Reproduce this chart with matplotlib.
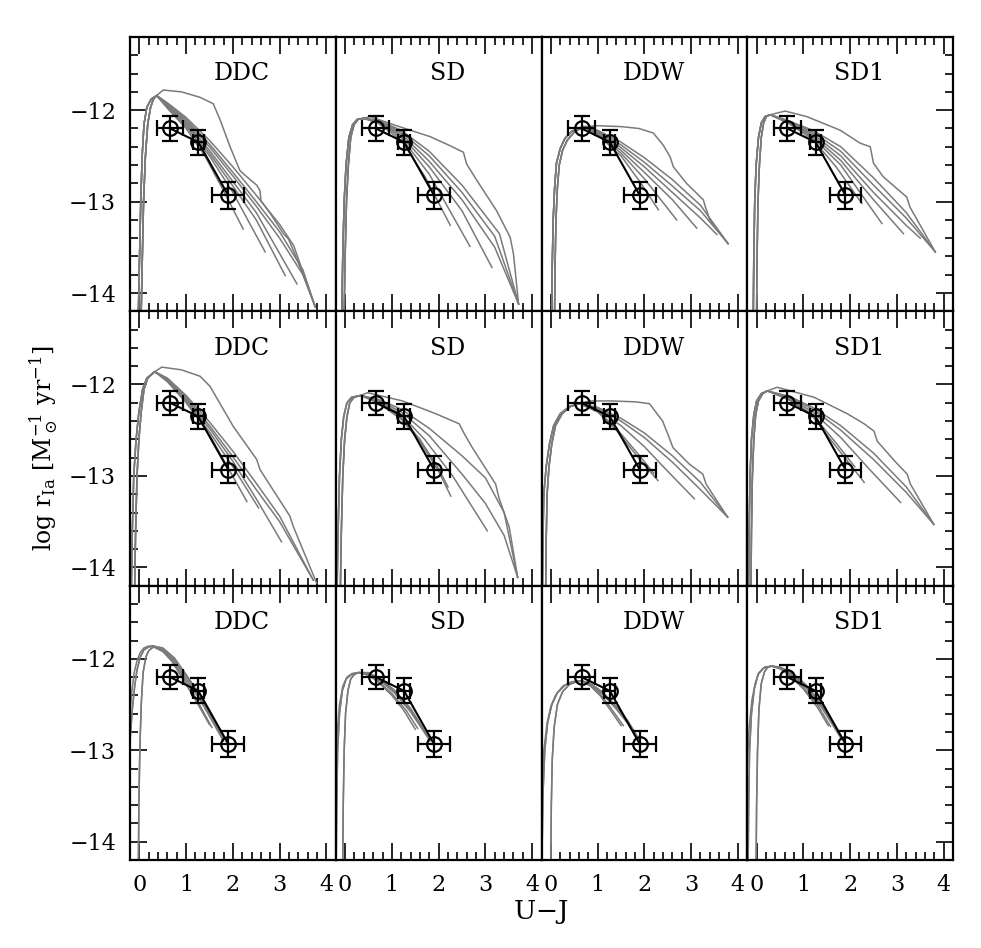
import matplotlib
matplotlib.use("Agg")
import matplotlib.pyplot as plt
from matplotlib.ticker import MultipleLocator

plt.rcParams['font.family'] = ['DejaVu Serif']
plt.rcParams['mathtext.fontset'] = 'dejavuserif'
plt.rcParams['xtick.labelsize'] = 16
plt.rcParams['ytick.labelsize'] = 16

# observed points (U-J colour vs log rate)
obs_x = [0.656, 1.26, 1.90]
obs_y = [-12.20, -12.35, -12.93]
obs_xerr = [0.285, 0.12, 0.34]
obs_yerr = [0.133, 0.135, 0.146]

models = ['DDC', 'SD', 'DDW', 'SD1']

# ---- row 1 ----
r1_ddc_rise = [([-0.02, 0.0, 0.03, 0.06, 0.10, 0.16, 0.25, 0.37], [-14.2, -13.7, -13.0, -12.5, -12.15, -11.97, -11.88, -11.84]),
               ([0.04, 0.06, 0.09, 0.13, 0.18, 0.24, 0.30, 0.37], [-14.2, -13.7, -13.0, -12.5, -12.15, -11.97, -11.88, -11.84])]
r1_ddc_tails = [([0.51, 0.9, 1.3, 1.58, 1.73, 1.94, 2.15, 2.3, 2.51, 2.58, 2.6, 2.8, 3.08, 3.19, 3.29, 3.44, 3.76],
                 [-11.78, -11.8, -11.86, -11.93, -12.11, -12.4, -12.66, -12.73, -12.82, -12.88, -12.99, -13.13, -13.35, -13.41, -13.53, -13.72, -14.15]),
                ([0.6, 1.0, 1.4, 1.8, 2.22], [-11.98, -12.2, -12.5, -12.88, -13.30]),
                ([0.6, 1.0, 1.5, 2.0, 2.69], [-11.97, -12.18, -12.5, -12.9, -13.55]),
                ([0.6, 1.0, 1.5, 2.0, 2.5, 3.12], [-11.96, -12.16, -12.47, -12.83, -13.2, -13.81]),
                ([0.6, 1.0, 1.5, 2.0, 2.5, 3.37], [-11.95, -12.14, -12.44, -12.78, -13.12, -13.9]),
                ([0.6, 1.0, 1.5, 2.0, 2.5, 3.0, 3.5, 3.76], [-11.94, -12.12, -12.4, -12.72, -13.05, -13.4, -13.8, -14.15]),
                ([0.6, 1.0, 1.5, 2.0, 2.5, 3.0, 3.5, 3.76], [-11.93, -12.1, -12.37, -12.68, -13.0, -13.33, -13.75, -14.15]),
                ([0.6, 1.0, 1.5, 2.0, 2.5, 3.0, 3.3, 3.76], [-11.92, -12.08, -12.33, -12.62, -12.93, -13.25, -13.48, -14.15])]

r1_sd_rise = [([-0.07, -0.05, -0.02, 0.02, 0.08, 0.16, 0.26, 0.39], [-14.2, -13.6, -13.0, -12.6, -12.3, -12.16, -12.1, -12.09]),
              ([-0.02, 0.0, 0.03, 0.07, 0.12, 0.19, 0.28, 0.39], [-14.2, -13.6, -13.0, -12.6, -12.3, -12.16, -12.1, -12.09])]
r1_sd_tails = [([0.53, 1.1, 1.82, 2.25, 2.53, 2.6, 2.82, 3.1, 3.24, 3.53, 3.6, 3.71],
                [-12.07, -12.17, -12.29, -12.39, -12.46, -12.59, -12.77, -12.99, -13.1, -13.39, -13.57, -14.12]),
               ([0.7, 1.2, 1.7, 2.25], [-12.14, -12.33, -12.72, -13.26]),
               ([0.7, 1.2, 1.8, 2.67], [-12.13, -12.3, -12.7, -13.49]),
               ([0.7, 1.2, 1.8, 2.5, 3.14], [-12.12, -12.28, -12.62, -13.1, -13.72]),
               ([0.7, 1.2, 1.8, 2.5, 3.2, 3.71], [-12.12, -12.26, -12.56, -12.98, -13.5, -14.12]),
               ([0.7, 1.2, 1.8, 2.5, 3.2, 3.71], [-12.11, -12.24, -12.5, -12.9, -13.38, -14.12]),
               ([0.7, 1.2, 1.8, 2.5, 3.3, 3.71], [-12.11, -12.22, -12.45, -12.82, -13.35, -14.12])]

r1_ddw_rise = [([0.02, 0.03, 0.05, 0.08, 0.12, 0.2, 0.3, 0.45, 0.7], [-14.2, -13.7, -13.2, -12.85, -12.58, -12.42, -12.31, -12.23, -12.18]),
               ([0.08, 0.09, 0.11, 0.14, 0.18, 0.25, 0.35, 0.5, 0.7], [-14.2, -13.7, -13.2, -12.85, -12.6, -12.44, -12.33, -12.24, -12.18])]
r1_ddw_tails = [([1.0, 1.5, 1.88, 2.19, 2.4, 2.55, 2.62, 2.9, 3.26, 3.3, 3.4, 3.79],
                 [-12.17, -12.18, -12.2, -12.25, -12.38, -12.51, -12.62, -12.8, -12.98, -13.05, -13.2, -13.46]),
                ([1.0, 1.5, 1.9, 2.3], [-12.27, -12.5, -12.78, -13.09]),
                ([1.0, 1.5, 2.0, 2.69], [-12.26, -12.47, -12.75, -13.2]),
                ([1.0, 1.5, 2.0, 2.6, 3.12], [-12.25, -12.44, -12.68, -12.98, -13.29]),
                ([1.0, 1.5, 2.0, 2.6, 3.2, 3.55], [-12.24, -12.41, -12.62, -12.9, -13.18, -13.36]),
                ([1.0, 1.5, 2.0, 2.6, 3.2, 3.79], [-12.23, -12.38, -12.57, -12.83, -13.1, -13.46]),
                ([1.0, 1.5, 2.0, 2.6, 3.2, 3.79], [-12.22, -12.35, -12.52, -12.76, -13.04, -13.46])]

r1_sd1_rise = [([-0.07, -0.06, -0.04, -0.01, 0.04, 0.1, 0.18, 0.29], [-14.2, -13.6, -13.0, -12.6, -12.3, -12.14, -12.07, -12.05]),
               ([0.0, 0.01, 0.03, 0.06, 0.1, 0.15, 0.21, 0.29], [-14.2, -13.6, -13.0, -12.6, -12.3, -12.14, -12.07, -12.05])]
r1_sd1_tails = [([0.61, 1.07, 1.79, 2.21, 2.43, 2.5, 2.71, 3.21, 3.28, 3.82],
                 [-12.01, -12.07, -12.22, -12.36, -12.4, -12.58, -12.73, -12.95, -13.06, -13.55]),
                ([0.7, 1.2, 1.7, 2.25], [-12.15, -12.32, -12.62, -13.02]),
                ([0.7, 1.2, 1.8, 2.68], [-12.14, -12.3, -12.6, -13.24]),
                ([0.7, 1.2, 1.8, 2.5, 3.14], [-12.13, -12.28, -12.55, -12.98, -13.35]),
                ([0.7, 1.2, 1.8, 2.5, 3.2, 3.5], [-12.13, -12.26, -12.5, -12.9, -13.26, -13.4]),
                ([0.7, 1.2, 1.8, 2.5, 3.2, 3.82], [-12.12, -12.24, -12.45, -12.82, -13.18, -13.55]),
                ([0.7, 1.2, 1.8, 2.5, 3.2, 3.82], [-12.12, -12.22, -12.4, -12.74, -13.12, -13.55])]

# ---- row 2 ----
r2_ddc_rise = [([-0.17, -0.15, -0.12, -0.07, -0.01, 0.07, 0.16, 0.33], [-14.2, -13.6, -13.0, -12.6, -12.3, -12.05, -11.93, -11.86]),
               ([-0.1, -0.08, -0.05, -0.01, 0.04, 0.1, 0.18, 0.33], [-14.2, -13.6, -13.0, -12.6, -12.3, -12.05, -11.93, -11.86])]
r2_ddc_tails = [([0.48, 0.9, 1.3, 1.51, 2.01, 2.51, 2.58, 3.22, 3.29, 3.79],
                 [-11.81, -11.84, -11.91, -12.02, -12.46, -12.82, -12.93, -13.44, -13.55, -14.17]),
                ([0.6, 1.0, 1.5, 2.3], [-11.97, -12.2, -12.55, -13.28]),
                ([0.6, 1.0, 1.5, 2.0, 2.55], [-11.96, -12.18, -12.52, -12.9, -13.35]),
                ([0.6, 1.0, 1.5, 2.0, 2.5, 3.04], [-11.95, -12.16, -12.48, -12.84, -13.25, -13.72]),
                ([0.6, 1.0, 1.5, 2.0, 2.5, 3.0, 3.72], [-11.94, -12.14, -12.45, -12.79, -13.15, -13.5, -14.14]),
                ([0.6, 1.0, 1.5, 2.0, 2.5, 3.0, 3.72], [-11.93, -12.12, -12.41, -12.73, -13.08, -13.44, -14.14])]

r2_sd_rise = [([-0.17, -0.15, -0.12, -0.08, -0.03, 0.04, 0.14, 0.33], [-14.2, -13.6, -13.0, -12.6, -12.35, -12.2, -12.14, -12.12]),
              ([-0.1, -0.08, -0.05, -0.01, 0.04, 0.1, 0.19, 0.33], [-14.2, -13.6, -13.0, -12.6, -12.35, -12.2, -12.14, -12.12])]
r2_sd_tails = [([0.48, 1.23, 1.94, 2.44, 2.55, 2.72, 3.22, 3.29, 3.51, 3.69],
                [-12.09, -12.18, -12.32, -12.43, -12.54, -12.69, -13.09, -13.24, -13.56, -14.11]),
               ([0.7, 1.2, 1.6, 2.0, 2.26], [-12.2, -12.38, -12.62, -12.95, -13.22]),
               ([0.7, 1.2, 1.6, 2.0, 2.2], [-12.19, -12.36, -12.6, -12.92, -13.12]),
               ([0.7, 1.2, 1.7, 2.3, 3.04], [-12.18, -12.33, -12.6, -13.0, -13.6]),
               ([0.7, 1.2, 1.8, 2.5, 3.0, 3.4, 3.69], [-12.17, -12.3, -12.56, -12.98, -13.3, -13.65, -14.11]),
               ([0.7, 1.2, 1.8, 2.5, 3.0, 3.4, 3.69], [-12.16, -12.27, -12.48, -12.78, -13.02, -13.4, -14.11])]

r2_ddw_rise = [([-0.18, -0.17, -0.15, -0.1, -0.03, 0.06, 0.2, 0.4, 0.61], [-14.2, -13.7, -13.2, -12.9, -12.65, -12.45, -12.32, -12.24, -12.21]),
               ([-0.11, -0.1, -0.08, -0.04, 0.02, 0.1, 0.24, 0.42, 0.61], [-14.2, -13.7, -13.2, -12.9, -12.65, -12.45, -12.32, -12.24, -12.21])]
r2_ddw_tails = [([0.82, 1.3, 1.82, 2.11, 2.39, 2.53, 2.61, 2.96, 3.25, 3.32, 3.78],
                 [-12.18, -12.18, -12.19, -12.21, -12.4, -12.58, -12.69, -12.87, -12.98, -13.09, -13.45]),
                ([1.0, 1.4, 1.9, 2.29], [-12.3, -12.5, -12.82, -13.05]),
                ([1.0, 1.4, 1.9, 2.2], [-12.29, -12.48, -12.78, -12.97]),
                ([1.0, 1.5, 2.0, 2.5, 3.07], [-12.28, -12.45, -12.68, -12.95, -13.25]),
                ([1.0, 1.5, 2.0, 2.6, 3.2, 3.78], [-12.26, -12.4, -12.58, -12.85, -13.15, -13.45]),
                ([1.0, 1.5, 2.0, 2.6, 3.2, 3.78], [-12.25, -12.37, -12.53, -12.78, -13.07, -13.45])]

r2_sd1_rise = [([-0.17, -0.16, -0.14, -0.11, -0.06, 0.0, 0.1, 0.23], [-14.2, -13.6, -13.0, -12.6, -12.33, -12.18, -12.1, -12.07]),
               ([-0.12, -0.11, -0.09, -0.06, -0.02, 0.04, 0.13, 0.23], [-14.2, -13.6, -13.0, -12.6, -12.33, -12.18, -12.1, -12.07])]
r2_sd1_tails = [([0.44, 1.23, 1.94, 2.3, 2.51, 2.58, 2.94, 3.22, 3.29, 3.79],
                 [-12.03, -12.14, -12.32, -12.43, -12.51, -12.62, -12.83, -12.98, -13.09, -13.53]),
                ([0.7, 1.2, 1.7, 2.3], [-12.17, -12.35, -12.68, -13.07]),
                ([0.7, 1.2, 1.7, 2.1], [-12.16, -12.33, -12.64, -12.9]),
                ([0.7, 1.2, 1.8, 2.4, 3.08], [-12.15, -12.3, -12.58, -12.92, -13.29]),
                ([0.7, 1.2, 1.8, 2.5, 3.2, 3.79], [-12.14, -12.27, -12.5, -12.82, -13.18, -13.53]),
                ([0.7, 1.2, 1.8, 2.5, 3.2, 3.79], [-12.13, -12.25, -12.45, -12.75, -13.12, -13.53])]

# ---- row 3 ----
r3_ddc_rise = [([-0.02, -0.01, 0.01, 0.04, 0.08, 0.14, 0.2, 0.3], [-14.2, -13.6, -13.0, -12.5, -12.15, -11.98, -11.91, -11.87]),
               ([-0.2, -0.15, -0.1, -0.05, 0.02, 0.1, 0.2, 0.3], [-12.9, -12.55, -12.3, -12.12, -11.98, -11.9, -11.87, -11.86]),
               ([-0.2, -0.16, -0.11, -0.05, 0.02, 0.1, 0.2, 0.3], [-12.6, -12.35, -12.15, -12.02, -11.93, -11.88, -11.86, -11.86])]
r3_ddc_tails = [([0.5, 0.7, 0.95, 1.2, 1.5], [-11.92, -12.03, -12.24, -12.45, -12.72]),
                ([0.5, 0.7, 0.95, 1.2, 1.55], [-11.91, -12.01, -12.21, -12.42, -12.75]),
                ([0.5, 0.75, 1.0, 1.3, 1.6, 1.8], [-11.9, -12.02, -12.22, -12.45, -12.72, -12.9]),
                ([0.5, 0.75, 1.0, 1.3, 1.6, 1.8], [-11.89, -12.0, -12.19, -12.42, -12.7, -12.88]),
                ([0.5, 0.75, 1.0, 1.3, 1.6, 1.8], [-11.88, -11.99, -12.17, -12.4, -12.68, -12.87])]

r3_sd_rise = [([-0.05, -0.04, -0.02, 0.01, 0.06, 0.12, 0.2, 0.29], [-14.2, -13.6, -13.0, -12.6, -12.35, -12.22, -12.17, -12.15]),
              ([-0.19, -0.18, -0.16, -0.12, -0.06, 0.02, 0.14, 0.29], [-14.2, -13.6, -13.0, -12.6, -12.35, -12.22, -12.17, -12.15]),
              ([-0.2, -0.17, -0.12, -0.05, 0.04, 0.15, 0.29], [-13.3, -12.8, -12.5, -12.3, -12.2, -12.16, -12.15])]
r3_sd_tails = [([0.5, 0.7, 1.0, 1.25, 1.5], [-12.18, -12.25, -12.4, -12.56, -12.77]),
               ([0.5, 0.7, 1.0, 1.3, 1.55], [-12.17, -12.24, -12.38, -12.56, -12.76]),
               ([0.5, 0.75, 1.05, 1.4, 1.82], [-12.16, -12.24, -12.37, -12.58, -12.9]),
               ([0.5, 0.75, 1.05, 1.4, 1.8], [-12.16, -12.23, -12.35, -12.56, -12.88]),
               ([0.5, 0.75, 1.05, 1.4, 1.8], [-12.15, -12.22, -12.34, -12.54, -12.87])]

r3_ddw_rise = [([0.0, 0.01, 0.03, 0.07, 0.14, 0.25, 0.4, 0.55, 0.66], [-14.2, -13.6, -13.1, -12.75, -12.5, -12.36, -12.28, -12.25, -12.24]),
               ([-0.19, -0.17, -0.13, -0.07, 0.02, 0.14, 0.3, 0.5, 0.66], [-14.2, -13.5, -13.0, -12.7, -12.5, -12.37, -12.29, -12.25, -12.24]),
               ([-0.2, -0.15, -0.08, 0.0, 0.1, 0.25, 0.45, 0.66], [-13.6, -13.0, -12.7, -12.52, -12.4, -12.3, -12.25, -12.24])]
r3_ddw_tails = [([0.85, 1.05, 1.3, 1.5], [-12.3, -12.4, -12.58, -12.73]),
                ([0.85, 1.05, 1.3, 1.55], [-12.29, -12.38, -12.55, -12.73]),
                ([0.85, 1.1, 1.4, 1.65, 1.87], [-12.28, -12.38, -12.55, -12.71, -12.88]),
                ([0.85, 1.1, 1.4, 1.65, 1.85], [-12.28, -12.37, -12.53, -12.69, -12.86]),
                ([0.85, 1.1, 1.4, 1.65, 1.85], [-12.27, -12.36, -12.52, -12.68, -12.85])]

r3_sd1_rise = [([-0.01, 0.0, 0.02, 0.05, 0.1, 0.17, 0.24, 0.32], [-14.2, -13.6, -13.0, -12.55, -12.27, -12.14, -12.09, -12.08]),
               ([-0.18, -0.17, -0.15, -0.11, -0.05, 0.03, 0.15, 0.32], [-14.2, -13.6, -13.0, -12.6, -12.33, -12.17, -12.1, -12.08]),
               ([-0.2, -0.16, -0.1, -0.03, 0.05, 0.17, 0.32], [-13.2, -12.75, -12.45, -12.27, -12.15, -12.09, -12.08])]
r3_sd1_tails = [([0.5, 0.7, 1.0, 1.3, 1.53], [-12.11, -12.18, -12.33, -12.53, -12.73]),
                ([0.5, 0.7, 1.0, 1.3, 1.58], [-12.1, -12.17, -12.31, -12.5, -12.74]),
                ([0.5, 0.75, 1.05, 1.4, 1.82], [-12.1, -12.17, -12.31, -12.54, -12.88]),
                ([0.5, 0.75, 1.05, 1.4, 1.8], [-12.09, -12.16, -12.29, -12.52, -12.86]),
                ([0.5, 0.75, 1.05, 1.4, 1.8], [-12.09, -12.15, -12.28, -12.5, -12.85])]

grid = [[(r1_ddc_rise, r1_ddc_tails), (r1_sd_rise, r1_sd_tails), (r1_ddw_rise, r1_ddw_tails), (r1_sd1_rise, r1_sd1_tails)],
        [(r2_ddc_rise, r2_ddc_tails), (r2_sd_rise, r2_sd_tails), (r2_ddw_rise, r2_ddw_tails), (r2_sd1_rise, r2_sd1_tails)],
        [(r3_ddc_rise, r3_ddc_tails), (r3_sd_rise, r3_sd_tails), (r3_ddw_rise, r3_ddw_tails), (r3_sd1_rise, r3_sd1_tails)]]

fig, axes = plt.subplots(3, 4, figsize=(9.81, 9.48), dpi=100, sharex=True, sharey=True)
fig.subplots_adjust(left=130/981, right=953/981, top=1-37/948, bottom=1-860/948, hspace=0, wspace=0)

for r in range(3):
    for c in range(4):
        ax = axes[r, c]
        rises, tails = grid[r][c]
        for i, (tx, ty) in enumerate(tails):
            rx, ry = rises[i % len(rises)]
            ax.plot(rx + tx, ry + ty, color='#7a7a7a', lw=1.1, zorder=2)

        # observed data
        ax.plot(obs_x, obs_y, color='k', lw=1.5, zorder=3)
        ax.errorbar(obs_x, obs_y, xerr=obs_xerr, yerr=obs_yerr, fmt='o', ms=10.5,
                    mfc='none', mec='k', mew=1.6, ecolor='k', elinewidth=1.6,
                    capsize=5.5, capthick=1.6, zorder=4)

        ax.text(0.545, 0.866, models[c], transform=ax.transAxes, ha='center', va='center', fontsize=17)

        ax.set_xlim(-0.2, 4.2)
        ax.set_ylim(-14.2, -11.2)
        ax.xaxis.set_major_locator(MultipleLocator(1))
        ax.xaxis.set_minor_locator(MultipleLocator(0.2))
        ax.yaxis.set_major_locator(MultipleLocator(1))
        ax.yaxis.set_minor_locator(MultipleLocator(0.2))
        ax.tick_params(which='both', direction='in', top=True, bottom=True,
                       left=(c == 0), right=(c == 3), width=1.2)
        ax.tick_params(which='major', length=12, pad=10)
        ax.tick_params(which='minor', length=5.8)
        for sp in ax.spines.values():
            sp.set_linewidth(1.6)

for ax in axes[:, 0]:
    for lab in ax.get_yticklabels():
        lab.set_fontsize(16)
for ax in axes[-1, :]:
    for lab in ax.get_xticklabels():
        lab.set_fontsize(16)

fig.text(541/981, 1-912/948, 'U$-$J', ha='center', va='center', fontsize=19)
fig.text(43/981, 1-448.5/948, r'log r$_{\rm Ia}$ [M$_\odot^{-1}$ yr$^{-1}$]', rotation=90,
         ha='center', va='center', fontsize=17)

fig.savefig('out.png', dpi=100)
